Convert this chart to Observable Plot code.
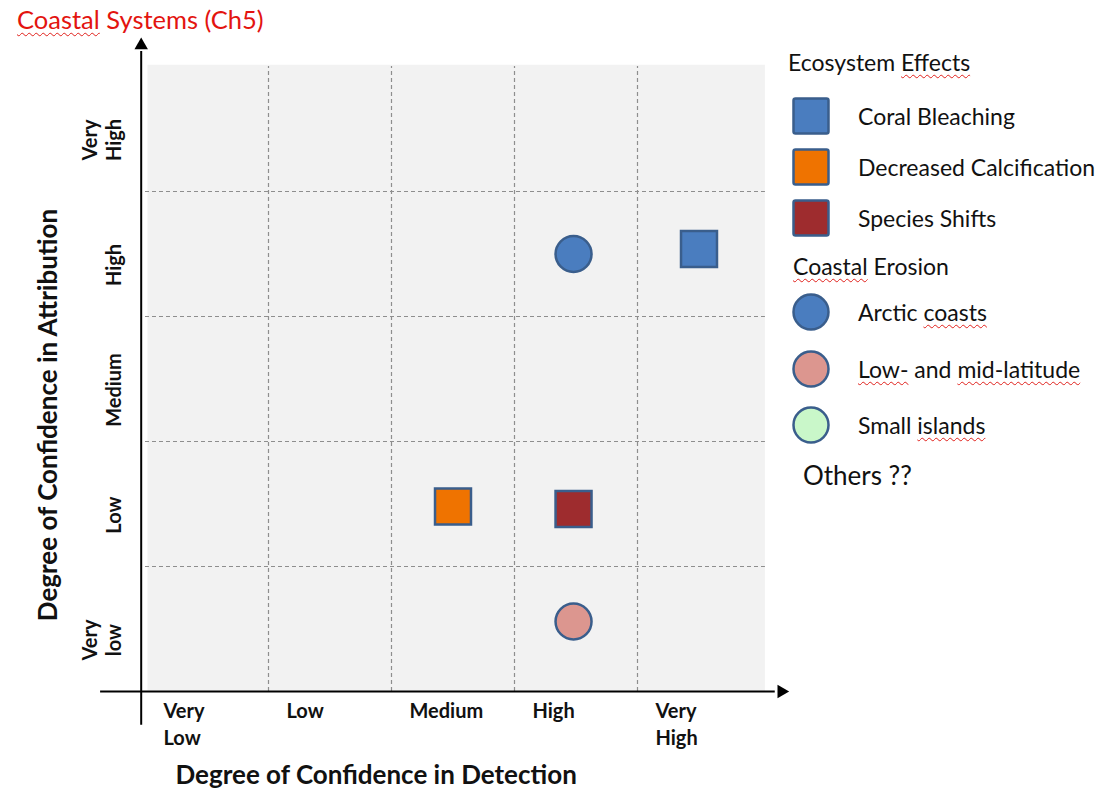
<!DOCTYPE html>
<html>
<head>
<meta charset="utf-8">
<script src="https://cdn.jsdelivr.net/npm/d3@7"></script>
<script src="https://cdn.jsdelivr.net/npm/@observablehq/plot@0.6"></script>
<style>
  html, body { margin: 0; padding: 0; background: #fff; }
  #wrap { position: relative; width: 1104px; height: 793px; font-family: Lato, "Open Sans", sans-serif; }
  #title { position: absolute; left: 17px; top: 4px; font-size: 25.5px; color: #e3140f; white-space: nowrap; }
  .sq { text-decoration: underline wavy #e0201b; text-decoration-thickness: 1px; text-underline-offset: 3px; text-decoration-skip-ink: none; }
  .leg { position: absolute; white-space: nowrap; color: #111; font-size: 23px; transform: translateY(-50%); }
  .sw { position: absolute; transform: translate(-50%, -50%); }
</style>
</head>
<body>
<div id="wrap">
  <div id="title"></div>
  <div id="chart"></div>
  <div id="legend"></div>
</div>
<script>
// ---- data ----
const chartTitle = "Coastal Systems (Ch5)";
const detectionLevels = ["Very\nLow", "Low", "Medium", "High", "Very\nHigh"];
const attributionLevels = ["Very\nlow", "Low", "Medium", "High", "Very\nHigh"];
const xTitle = "Degree of Confidence in Detection";
const yTitle = "Degree of Confidence in Attribution";
const groups = ["Ecosystem Effects", "Coastal Erosion"];
const impacts = ["Coral Bleaching", "Decreased Calcification", "Species Shifts", "Arctic coasts", "Low- and mid-latitude", "Small islands"];
const impactGroup = ["Ecosystem Effects", "Ecosystem Effects", "Ecosystem Effects", "Coastal Erosion", "Coastal Erosion", "Coastal Erosion"];
// level position (0..5, cell centres at .5); Small islands has no point
const detection = [4.5, 2.5, 3.48, 3.48, 3.48, null];
const attribution = [3.54, 1.48, 1.46, 3.5, 0.56, null];
const otherNote = "Others ??";

// ---- styles ----
const impactColors = ["#4a7dbf", "#ef7300", "#9e2c2e", "#4a7dbf", "#dc968f", "#c9f7c9"];
const groupSymbols = ["square", "circle"];
const markerStroke = "#3a5e8c";
const spellcheck = new Set(["Coastal", "Effects", "coasts", "Low-", "mid-latitude", "islands"]);
const wavy = s => s.split(" ").map(w => spellcheck.has(w) ? `<span class="sq">${w}</span>` : w).join(" ");

document.getElementById("title").innerHTML = wavy(chartTitle);

const points = impacts.map((name, i) => ({name, group: impactGroup[i], x: detection[i], y: attribution[i]}))
  .filter(d => d.x != null);

const W = 1104, H = 793;
const chart = Plot.plot({
  width: W, height: H,
  marginLeft: 145, marginRight: 344, marginTop: 66, marginBottom: 102,
  style: {fontFamily: "Lato, 'Open Sans', sans-serif", background: "transparent", overflow: "visible"},
  x: {domain: [0, 5], axis: null},
  y: {domain: [0, 5], axis: null},
  color: {domain: impacts, range: impactColors},
  symbol: {domain: groups, range: groupSymbols},
  r: {type: "identity"},
  marks: [
    Plot.rect([0], {x1: 0.02, x2: 5.04, y1: 0, y2: 5.01, fill: "#f2f2f2"}),
    Plot.ruleX(d3.range(1, detectionLevels.length), {y1: 0, y2: 5, stroke: "#8e8e8e", strokeWidth: 1.2, strokeDasharray: "4,3"}),
    Plot.ruleY(d3.range(1, attributionLevels.length), {x1: 0, x2: 5.04, stroke: "#8e8e8e", strokeWidth: 1.2, strokeDasharray: "4,3"}),
    // axes with arrows
    Plot.ruleX([-0.035], {y1: -0.27, y2: 5.12, stroke: "#000", strokeWidth: 2}),
    Plot.dot([0], {x: -0.035, y: 5.17, symbol: "triangle", r: 5, fill: "#000"}),
    Plot.ruleY([0], {x1: -0.365, x2: 5.12, stroke: "#000", strokeWidth: 2}),
    Plot.dot([0], {x: 5.17, y: 0, symbol: "triangle", r: 5, fill: "#000", rotate: 90}),
    // tick labels
    Plot.text(detectionLevels, {x: (d, i) => i, y: 0, text: d => d, textAnchor: "start", lineAnchor: "top",
      dx: 18, dy: 7, lineHeight: 1.35, fontSize: 20, fontWeight: "bold", fill: "#111"}),
    Plot.text(attributionLevels, {x: 0, y: (d, i) => i + 0.5, text: d => d, rotate: -90, textAnchor: "middle", lineAnchor: "bottom",
      dx: -25, dy: 11, lineHeight: 1.2, fontSize: 20, fontWeight: "bold", fill: "#111"}),
    // axis titles
    Plot.text([xTitle], {frameAnchor: "bottom-left", textAnchor: "start", lineAnchor: "middle", dx: 30, dy: 84,
      fontSize: 26, fontWeight: "bold", fill: "#111"}),
    Plot.text([yTitle], {frameAnchor: "left", rotate: -90, textAnchor: "middle", lineAnchor: "middle", dx: -97, dy: 36,
      fontSize: 26, fontWeight: "bold", fill: "#111"}),
    // data markers
    Plot.dot(points, {x: "x", y: "y", fill: "name", symbol: "group",
      r: d => d.group === groups[0] ? 20.3 : 18, stroke: markerStroke, strokeWidth: 2.5})
  ]
});
document.getElementById("chart").append(chart);

// ---- legend (HTML) ----
const legend = document.getElementById("legend");
function addText(html, left, cy, size) {
  const el = document.createElement("div");
  el.className = "leg";
  el.style.left = left + "px";
  el.style.top = cy + "px";
  if (size) el.style.fontSize = size + "px";
  el.innerHTML = html;
  legend.append(el);
}
function addSwatch(symbol, color, cx, cy) {
  const s = 38;
  const el = document.createElement("div");
  el.className = "sw";
  el.style.left = cx + "px";
  el.style.top = cy + "px";
  const inner = symbol === "square"
    ? `<rect x="1.5" y="1.5" width="${s - 3}" height="${s - 3}" rx="2" fill="${color}" stroke="${markerStroke}" stroke-width="2.5"/>`
    : `<circle cx="${s / 2}" cy="${s / 2}" r="${s / 2 - 1.5}" fill="${color}" stroke="${markerStroke}" stroke-width="2.5"/>`;
  el.innerHTML = `<svg width="${s}" height="${s}" style="display:block">${inner}</svg>`;
  legend.append(el);
}
groups.forEach((g, gi) => {
  const headerY = gi === 0 ? 62 : 266;
  const firstY = gi === 0 ? 116 : 312;
  const step = gi === 0 ? 51 : 56.5;
  addText(wavy(g), gi === 0 ? 788 : 793, headerY);
  impacts.forEach((name, i) => {
    if (impactGroup[i] !== g) return;
    const k = impacts.slice(0, i).filter((n, j) => impactGroup[j] === g).length;
    const cy = firstY + k * step;
    addSwatch(groupSymbols[gi], impactColors[i], 811, cy);
    addText(wavy(name), 858, cy);
  });
});
addText(otherNote, 803, 475, 26);
</script>
</body>
</html>
